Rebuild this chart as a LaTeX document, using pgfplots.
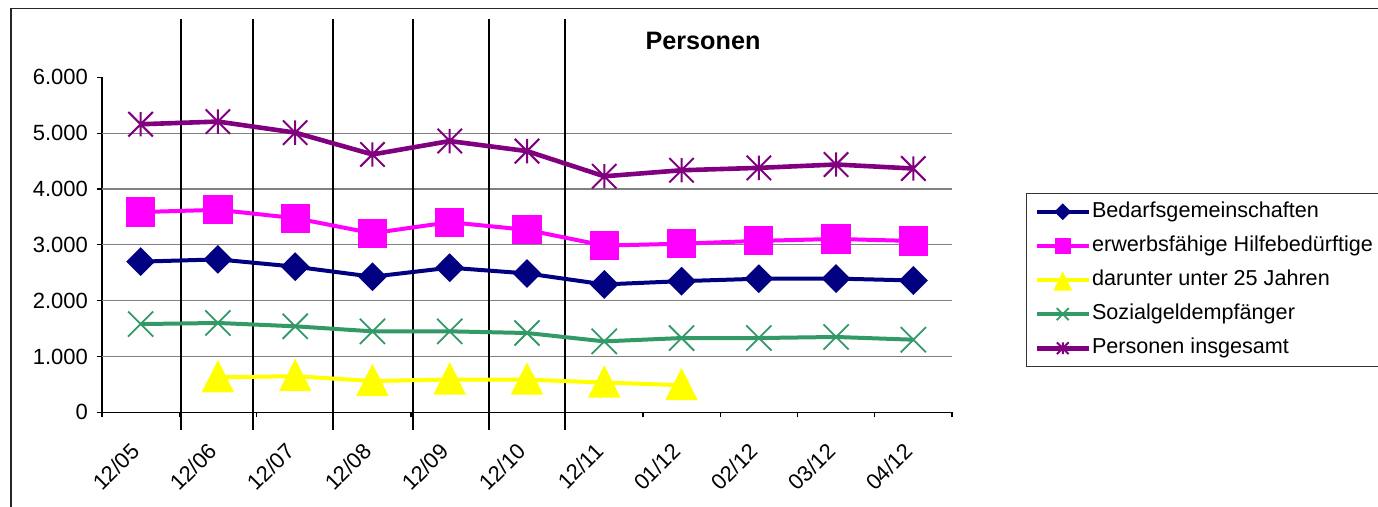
\documentclass[border=0pt]{standalone}
\usepackage{fontspec}
\setmainfont{Liberation Sans}
\usepackage{pgfplots}
\pgfplotsset{compat=1.18}
\definecolor{bgblue}{HTML}{000080}
\definecolor{ehbmag}{HTML}{FF00FF}
\definecolor{uyel}{HTML}{FFFF00}
\definecolor{sozgreen}{HTML}{339966}
\definecolor{perspurp}{HTML}{800080}
\pgfdeclareplotmark{xstar}{%
  \pgfpathmoveto{\pgfqpoint{0pt}{\pgfplotmarksize}}%
  \pgfpathlineto{\pgfqpoint{0pt}{-\pgfplotmarksize}}%
  \pgfpathmoveto{\pgfqpoint{-\pgfplotmarksize}{-\pgfplotmarksize}}%
  \pgfpathlineto{\pgfqpoint{\pgfplotmarksize}{\pgfplotmarksize}}%
  \pgfpathmoveto{\pgfqpoint{-\pgfplotmarksize}{\pgfplotmarksize}}%
  \pgfpathlineto{\pgfqpoint{\pgfplotmarksize}{-\pgfplotmarksize}}%
  \pgfusepathqstroke}
\begin{document}
\begin{tikzpicture}
\useasboundingbox (0,0) rectangle (689pt,253.5pt);
\draw[line width=0.75pt, black!85] (5.5pt,0) -- (5.5pt,249.25pt) -- (689pt,249.25pt);
\node[font=\fontsize{12.6}{14}\selectfont\bfseries] at (351.5pt,233pt) {Personen};
\begin{axis}[
  at={(51pt,47.35pt)}, anchor=south west, scale only axis,
  width=425pt, height=167.5pt,
  xmin=-0.5, xmax=10.5, ymin=0, ymax=6000,
  clip=false,
  axis x line=bottom, axis y line=left,
  axis line style={-, line width=0.6pt, black},
  xtick={0,...,10},
  xticklabels={12/05,12/06,12/07,12/08,12/09,12/10,12/11,01/12,02/12,03/12,04/12},
  minor xtick={-0.5,0.5,...,10.5},
  major x tick style={draw=none},
  minor x tick style={black, line width=0.6pt},
  ytick={0,1000,...,6000},
  yticklabels={0,{1.000},{2.000},{3.000},{4.000},{5.000},{6.000}},
  y tick style={black, line width=0.6pt},
  extra y ticks={1000,2000,3000,4000,5000},
  extra y tick labels={},
  extra y tick style={grid=major, major tick length=0pt},
  grid style={gray, line width=0.6pt},
  tick align=outside,
  major tick length=2.5pt, minor tick length=2.5pt,
  ticklabel style={font=\fontsize{11}{13}\selectfont},
  yticklabel style={xshift=-1pt},
  xticklabel style={xshift=0pt, yshift=-12.5pt, rotate=45, anchor=east},
  legend style={at={(1.087,0.6546)}, anchor=north west, draw=black!80, line width=0.5pt,
    fill=white, font=\fontsize{10.8}{12}\selectfont, row sep=5.75pt,
    inner xsep=4pt, inner ysep=3.5pt,
    nodes={inner sep=0.5pt, text height=7.8pt, text depth=2.5pt}},
  legend cell align=left,
  legend image code/.code={\draw[mark repeat=2, mark phase=2, every mark/.append style={scale=0.48}]
     plot coordinates {(0pt,0pt)(13pt,0pt)(26pt,0pt)};},
]
\draw[black, line width=0.9pt] (axis cs:0.519,-318) -- (axis cs:0.519,7037);
\draw[black, line width=0.9pt] (axis cs:1.454,-318) -- (axis cs:1.454,7037);
\draw[black, line width=0.9pt] (axis cs:2.49,-318) -- (axis cs:2.49,7037);
\draw[black, line width=0.9pt] (axis cs:3.52,-318) -- (axis cs:3.52,7037);
\draw[black, line width=0.9pt] (axis cs:4.508,-318) -- (axis cs:4.508,7037);
\draw[black, line width=0.9pt] (axis cs:5.49,-318) -- (axis cs:5.49,7037);

\addplot[bgblue, line width=2pt, mark=square*, mark size=4.1pt, mark options={rotate=45, solid}]
coordinates {(0,2698)(1,2739)(2,2608)(3,2428)(4,2590)(5,2487)(6,2290)(7,2349)(8,2392)(9,2395)(10,2361)};
\addlegendentry{Bedarfsgemeinschaften}
\addplot[ehbmag, line width=2pt, mark=square*, mark size=6.3pt]
coordinates {(0,3586)(1,3627)(2,3477)(3,3207)(4,3405)(5,3267)(6,2985)(7,3020)(8,3070)(9,3105)(10,3068)};
\addlegendentry{erwerbsfähige Hilfebedürftige}
\addplot[uyel, line width=2pt, mark=triangle*, mark size=7.5pt, mark options={yscale=1.15, yshift=-1.9pt}]
coordinates {(1,626)(2,647)(3,560)(4,587)(5,585)(6,533)(7,485)};
\addlegendentry{darunter unter 25 Jahren}
\addplot[sozgreen, line width=2pt, mark=x, mark size=8.9pt, mark options={line width=0.9pt}]
coordinates {(0,1580)(1,1600)(2,1540)(3,1450)(4,1450)(5,1420)(6,1270)(7,1330)(8,1330)(9,1349)(10,1300)};
\addlegendentry{Sozialgeldempfänger}
\addplot[perspurp, line width=2.3pt, mark=xstar, mark size=6.1pt, mark options={line width=1pt}]
coordinates {(0,5159)(1,5207)(2,5009)(3,4618)(4,4858)(5,4678)(6,4227)(7,4335)(8,4378)(9,4438)(10,4366)};
\addlegendentry{Personen insgesamt}
\end{axis}
\end{tikzpicture}
\end{document}
